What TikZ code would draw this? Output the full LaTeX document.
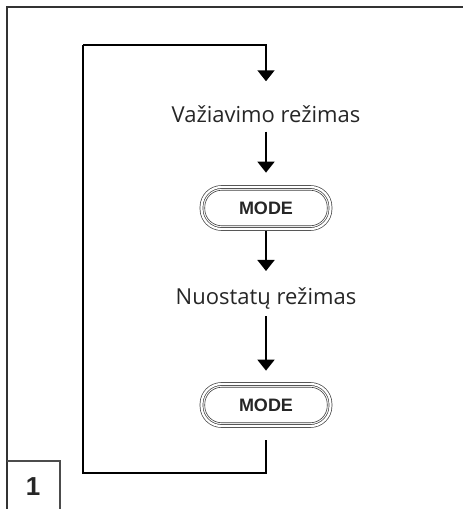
\documentclass[tikz,border=0pt]{standalone}
\usepackage{fontspec}
\setmainfont{Open Sans}
\newfontfamily\btnfont{Liberation Sans}
\usetikzlibrary{arrows.meta}

\tikzset{
  modetext/.style={anchor=center,inner sep=0pt,font=\fontsize{22}{26}\selectfont,text=black!85},
  modebtn/.style={draw=black!75,line width=.7pt,rounded corners=20pt,minimum width=129pt,minimum height=42pt,
    double=white,double distance=2.2pt,inner sep=0pt,font=\btnfont\bfseries\fontsize{18}{20}\selectfont,text=black!85},
  btnline/.style={draw=black!75,line width=.6pt,rounded corners=17pt},
  flow/.style={line width=1.8pt,-{Triangle[width=17pt,length=11pt]}},
  loopline/.style={line width=1.8pt}
}

\begin{document}
\begin{tikzpicture}[x=1pt,y=-1pt]
\path[use as bounding box] (0,0) rectangle (463,509);
% frame
\draw[line width=1.3pt,black!80] (463,7) -- (7,7) -- (7,509);
\draw[line width=1.1pt,black!70] (7,461) -- (60,461) -- (60,509);
\node[anchor=center,inner sep=0pt,font=\btnfont\bfseries\fontsize{26}{28}\selectfont,text=black!85] (num) at (33,487) {1};
% steps
\node[modetext] (drive) at (266,114) {Važiavimo režimas};
\node[modebtn] (mode1) at (266,208) {MODE};
\node[modetext] (setup) at (266,298) {Nuostatų režimas};
\node[modebtn] (mode2) at (266,405) {MODE};
\draw[btnline] ([shift={(3.6,-3.6)}]mode1.south west) rectangle ([shift={(-3.6,3.6)}]mode1.north east);
\draw[btnline] ([shift={(3.6,-3.6)}]mode2.south west) rectangle ([shift={(-3.6,3.6)}]mode2.north east);
\coordinate (ltop) at (83,45);
\coordinate (rtop) at (266,45);
\coordinate (lbot) at (83,473);
\coordinate (rbot) at (266,473);
\coordinate (btop) at (266,440);
\draw[flow] (ltop) -- (rtop) -- ([yshift=24pt]drive.north);
\draw[flow] ([yshift=-9pt]drive.south) -- ([yshift=14pt]mode1.north);
\draw[flow] ([yshift=-2pt]mode1.south) -- ([yshift=16pt]setup.north);
\draw[flow] ([yshift=-7pt]setup.south) -- ([yshift=13pt]mode2.north);
\draw[loopline] (btop) -- (rbot) -- (lbot) -- (ltop);
\end{tikzpicture}
\end{document}
